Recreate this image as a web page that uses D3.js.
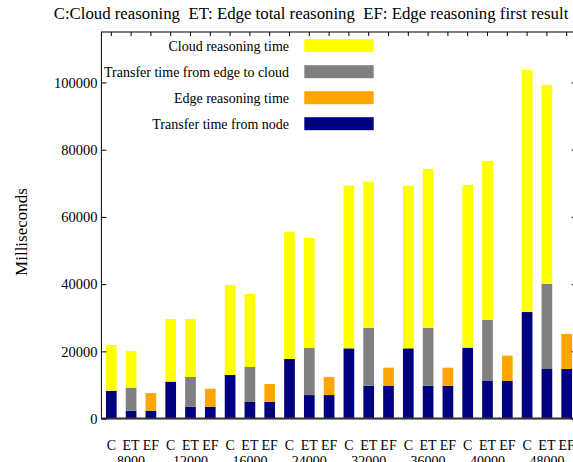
<!DOCTYPE html>
<html>
<head>
<meta charset="utf-8">
<script src="https://cdn.jsdelivr.net/npm/d3@7"></script>
<style>
    body { margin: 0; background: #fff; }
    svg { display: block; font-family: "Liberation Serif", "Times New Roman", serif; }
</style>
</head>
<body>
<svg id="chart" width="573" height="462"></svg>
<script>
// bar labels: one bar per (size, kind)
const sizes = ["8000", "12000", "16000", "24000", "32000", "36000", "40000", "48000"];
const kinds = ["C", "ET", "EF"];

// stacked segments, bottom to top, one value per bar (C, ET, EF for each size)
const nodeTransfer = [8300, 2350, 2350, 11000, 3550, 3550, 12970, 4950, 4950, 17750, 7000, 7000,
    20900, 9800, 9800, 20900, 9800, 9800, 21100, 11200, 11200, 31700, 14750, 14750];
const edgeReasoning = [0, 0, 5250, 0, 0, 5350, 0, 0, 5350, 0, 0, 5400,
    0, 0, 5350, 0, 0, 5350, 0, 0, 7530, 0, 0, 10420];
const edgeToCloud = [0, 6850, 0, 0, 8850, 0, 0, 10400, 0, 0, 14100, 0,
    0, 17250, 0, 0, 17250, 0, 0, 18150, 0, 0, 25300, 0];
const cloudReasoning = [13600, 10900, 0, 18650, 17250, 0, 26780, 21730, 0, 37850, 32650, 0,
    48400, 43450, 0, 48400, 47230, 0, 48420, 47320, 0, 72000, 59220, 0];

const yTicks = [0, 20000, 40000, 60000, 80000, 100000];

const series = [
    { name: "Transfer time from node", values: nodeTransfer, color: "#000080" },
    { name: "Edge reasoning time", values: edgeReasoning, color: "#ffa500" },
    { name: "Transfer time from edge to cloud", values: edgeToCloud, color: "#808080" },
    { name: "Cloud reasoning time", values: cloudReasoning, color: "#ffff00" }
];

var svg = d3.select("#chart");
var plotLeft = 101.4, plotRight = 576.6, plotTop = 32, plotBottom = 418.6;

var barIds = d3.range(nodeTransfer.length);

var x = d3.scaleBand()
    .domain(barIds)
    .range([plotLeft, plotRight])
    .paddingInner(0.46)
    .paddingOuter(0.23);

var y = d3.scaleLinear()
    .domain([0, 115000])
    .range([plotBottom, plotTop]);

// stack the segments
var rows = barIds.map(function(i) {
    var r = { id: i };
    series.forEach(function(s) { r[s.name] = s.values[i]; });
    return r;
});
var stacked = d3.stack().keys(series.map(s => s.name))(rows);

svg.append("g")
    .selectAll("g")
    .data(stacked)
    .enter()
    .append("g")
    .attr("fill", (d, i) => series[i].color)
    .selectAll("rect")
    .data(d => d.filter(p => p[1] > p[0]))
    .enter()
    .append("rect")
    .attr("x", d => x(d.data.id))
    .attr("width", x.bandwidth())
    .attr("y", d => y(d[1]))
    .attr("height", d => y(d[0]) - y(d[1]));

// frame
svg.append("rect")
    .attr("x", plotLeft).attr("y", plotTop)
    .attr("width", plotRight - plotLeft).attr("height", plotBottom - plotTop)
    .attr("fill", "none").attr("stroke", "#000").attr("stroke-width", 1);
svg.append("line")
    .attr("x1", plotLeft).attr("x2", plotRight)
    .attr("y1", plotBottom).attr("y2", plotBottom)
    .attr("stroke", "#333").attr("stroke-width", 2);

// y axis, ticks pointing inward
var yAxis = svg.append("g")
    .attr("transform", "translate(" + plotLeft + ",0)")
    .call(d3.axisLeft(y).tickValues(yTicks).tickFormat(d3.format("d"))
        .tickSizeInner(-5).tickSizeOuter(0).tickPadding(4));
yAxis.select(".domain").remove();
yAxis.selectAll("text").attr("font-size", 14.5).attr("font-family", "Liberation Serif").attr("fill", "#000");

var yMirror = svg.append("g")
    .attr("transform", "translate(" + plotRight + ",0)")
    .call(d3.axisRight(y).tickValues(yTicks).tickSizeInner(-5).tickSizeOuter(0).tickFormat(""));
yMirror.select(".domain").remove();

// top mirror ticks at every bar
svg.append("g")
    .selectAll("line")
    .data(barIds)
    .enter()
    .append("line")
    .attr("x1", d => x(d) + x.bandwidth() / 2)
    .attr("x2", d => x(d) + x.bandwidth() / 2)
    .attr("y1", plotTop).attr("y2", plotTop + 4)
    .attr("stroke", "#000");

// x labels
svg.append("g")
    .selectAll("text")
    .data(barIds)
    .enter()
    .append("text")
    .attr("x", d => x(d) + x.bandwidth() / 2)
    .attr("y", 449.5)
    .attr("text-anchor", "middle")
    .attr("font-size", 14)
    .text(d => kinds[d % 3]);

svg.append("g")
    .selectAll("text")
    .data(sizes)
    .enter()
    .append("text")
    .attr("x", (d, i) => x(i * 3 + 1) + x.bandwidth() / 2)
    .attr("y", 465.5)
    .attr("text-anchor", "middle")
    .attr("font-size", 14)
    .text(d => d);

// y label
svg.append("text")
    .attr("transform", "translate(27,232) rotate(-90)")
    .attr("text-anchor", "middle")
    .attr("font-size", 17)
    .text("Milliseconds");

// title
svg.append("text")
    .attr("x", 311)
    .attr("y", 19)
    .attr("text-anchor", "middle")
    .attr("font-size", 16.8)
    .attr("xml:space", "preserve")
    .text("C:Cloud reasoning  ET: Edge total reasoning  EF: Edge reasoning first result");

// legend, top entry first
var legend = svg.append("g")
    .selectAll("g")
    .data(series.slice().reverse())
    .enter()
    .append("g")
    .attr("transform", (d, i) => "translate(0," + (45.7 + i * 26) + ")");

legend.append("text")
    .attr("x", 289)
    .attr("y", 4.8)
    .attr("text-anchor", "end")
    .attr("font-size", 14)
    .text(d => d.name);

legend.append("rect")
    .attr("x", 304.3)
    .attr("y", -6.5)
    .attr("width", 69.4)
    .attr("height", 13)
    .attr("fill", d => d.color);
</script>
</body>
</html>
